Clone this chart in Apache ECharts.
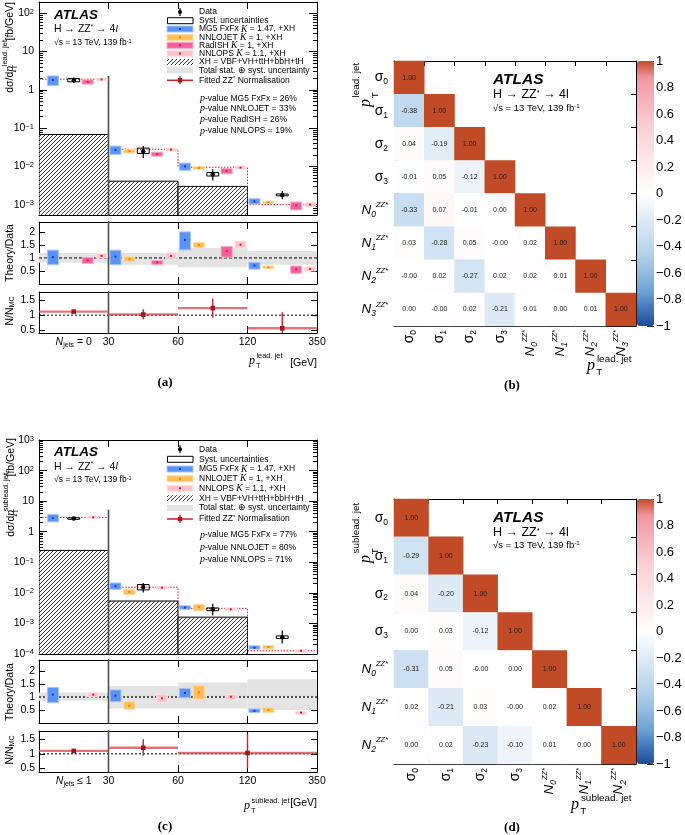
<!DOCTYPE html>
<html>
<head>
<meta charset="utf-8">
<title>H to ZZ* to 4l, jet pT</title>
<script src="https://cdn.jsdelivr.net/npm/echarts@6.0.0/dist/echarts.min.js"></script>
<style>
  html, body { margin: 0; padding: 0; background: #fff; }
  #chart { width: 685px; height: 835px; }
</style>
</head>
<body>
<div id="chart"></div>
<script>
var SANS = '"Liberation Sans", Arial, Helvetica, sans-serif';
var SERIF = '"Liberation Serif", "Times New Roman", serif';

// x runs 0..4, one unit per bin: N_jets bin, 30-60, 60-120, 120-350
var binLabels = ['30', '60', '120', '350'];

// ---------- (a) leading jet ----------
// predictions / data: [x, value, low, high]
var leadMG5 = [[0.2, 1.8, 1.3, 2.3], [1.1, 0.0267, 0.0206, 0.034], [2.1, 0.01, 0.0079, 0.0122], [3.1, 0.00122, 0.00104, 0.00143]];
var leadNNLOJET = [[1.3, 0.025, 0.0223, 0.0278], [2.3, 0.0091, 0.0083, 0.01], [3.3, 0.00115, 0.00108, 0.00123]];
var leadRadISH = [[0.7, 1.6, 1.41, 1.82], [1.7, 0.0209, 0.0185, 0.0236], [2.7, 0.0076, 0.0064, 0.0089], [3.7, 0.00095, 0.00073, 0.00117]];
var leadNNLOPS = [[0.9, 1.87, 1.72, 2.02], [1.9, 0.0275, 0.025, 0.03], [2.9, 0.0093, 0.0085, 0.0102], [3.9, 0.001, 0.0009, 0.00113]];
var leadData = [[0.5, 1.79, 1.5, 2.1], [1.5, 0.025, 0.0166, 0.034], [2.5, 0.0062, 0.0043, 0.0084], [3.5, 0.0018, 0.00138, 0.00228]];
var leadSyst = [[0.5, 1.62, 1.97], [1.5, 0.0218, 0.03], [2.5, 0.0056, 0.0069], [3.5, 0.0017, 0.0019]];
var leadXH = [0.068, 0.0041, 0.003, 0.0003];
var leadLine = [1.9, 0.028, 0.0095, 0.001];
var leadSplitTop = 2.3;
var leadRatioMG5 = [[0.2, 1.03, 0.74, 1.3], [1.1, 1.05, 0.74, 1.3], [2.1, 1.69, 1.31, 2.0], [3.1, 0.71, 0.57, 0.83]];
var leadRatioNNLOJET = [[1.3, 0.97, 0.87, 1.04], [2.3, 1.5, 1.4, 1.59], [3.3, 0.64, 0.59, 0.69]];
var leadRatioRadISH = [[0.7, 0.9, 0.79, 1.02], [1.7, 0.83, 0.74, 0.9], [2.7, 1.27, 1.03, 1.44], [3.7, 0.56, 0.41, 0.69]];
var leadRatioNNLOPS = [[0.9, 1.08, 1.0, 1.17], [1.9, 1.08, 0.99, 1.19], [2.9, 1.51, 1.38, 1.65], [3.9, 0.58, 0.5, 0.66]];
var leadBand = [[0.82, 1.19], [0.74, 1.19], [0.64, 1.38], [0.74, 1.27]];
// fitted ZZ* normalisation: [bin start, bin end, marker x, value, low, high]
var leadNorm = [[0, 1, 0.5, 1.12, 1.07, 1.16], [1, 2, 1.5, 1.02, 0.86, 1.2], [2, 3, 2.5, 1.24, 0.92, 1.57], [3, 4, 3.5, 0.55, 0.0, 1.1]];
var leadPvals = [['MG5 FxFx', 26], ['NNLOJET', 33], ['RadISH', 26], ['NNLOPS', 19]];

// ---------- (c) subleading jet ----------
var subMG5 = [[0.2, 2.8, 2.1, 3.7], [1.1, 0.0165, 0.013, 0.021], [2.1, 0.0033, 0.0029, 0.0038], [3.1, 0.00016, 0.000144, 0.000185]];
var subNNLOJET = [[1.3, 0.0107, 0.0088, 0.013], [2.3, 0.0034, 0.0026, 0.0042], [3.3, 0.00017, 0.000146, 0.00019]];
var subNNLOPS = [[0.78, 2.95, 2.7, 3.3], [1.77, 0.0148, 0.013, 0.0165], [2.76, 0.0029, 0.0026, 0.0032], [3.77, 0.000127, 0.000113, 0.00014]];
var subData = [[0.5, 2.7, 2.4, 3.0], [1.5, 0.0156, 0.0102, 0.021], [2.5, 0.0029, 0.0018, 0.0044], [3.5, 0.00035, 0.00022, 0.00059]];
var subSyst = [[0.5, 2.55, 2.85], [1.5, 0.0125, 0.0187], [2.5, 0.0026, 0.0032], [3.5, 0.00032, 0.00039]];
var subXH = [0.244, 0.0054, 0.0016, 0.00005];
var subLine = [2.95, 0.0153, 0.0031, 0.000127];
var subSplitTop = 5.2;
var subRatioMG5 = [[0.2, 1.09, 0.78, 1.37], [1.1, 1.05, 0.82, 1.27], [2.1, 1.15, 0.97, 1.33], [3.1, 0.47, 0.4, 0.54]];
var subRatioNNLOJET = [[1.3, 0.67, 0.53, 0.82], [2.3, 1.18, 0.92, 1.44], [3.3, 0.5, 0.41, 0.59]];
var subRatioNNLOPS = [[0.78, 1.09, 1.0, 1.17], [1.77, 0.95, 0.8, 1.1], [2.76, 1.01, 0.91, 1.1], [3.77, 0.4, 0.33, 0.45]];
var subBand = [[0.85, 1.17], [0.56, 1.42], [0.56, 1.56], [0.5, 1.69]];
var subNorm = [[0, 1, 0.5, 1.1, 1.03, 1.16], [1, 2, 1.5, 1.21, 0.93, 1.5], [2, 4, 3.0, 1.03, 0.5, 1.7]];
var subPvals = [['MG5 FxFx', 77], ['NNLOJET', 80], ['NNLOPS', 71]];

// ---------- (b), (d) correlation matrices (lower triangle, row by row) ----------
var leadParams = ['σ0', 'σ1', 'σ2', 'σ3', 'N0', 'N1', 'N2', 'N3'];
var leadCorr = [
  [1.00],
  [-0.38, 1.00],
  [0.04, -0.19, 1.00],
  [-0.01, 0.05, -0.12, 1.00],
  [-0.33, 0.07, -0.01, 0.00, 1.00],
  [0.03, -0.28, 0.05, -0.001, 0.02, 1.00],
  [-0.001, 0.02, -0.27, 0.02, 0.02, 0.01, 1.00],
  [0.00, -0.001, 0.02, -0.21, 0.01, 0.00, 0.01, 1.00]
];
var subParams = ['σ0', 'σ1', 'σ2', 'σ3', 'N0', 'N1', 'N2'];
var subCorr = [
  [1.00],
  [-0.29, 1.00],
  [0.04, -0.20, 1.00],
  [0.00, 0.03, -0.12, 1.00],
  [-0.31, 0.05, -0.001, 0.00, 1.00],
  [0.02, -0.21, 0.03, -0.001, 0.02, 1.00],
  [0.00, 0.02, -0.23, -0.10, 0.01, 0.00, 1.00]
];
var corrColors = ['#1f4c98', '#3f74b8', '#6a9fd4', '#8cb8df', '#a9cbe8', '#c1daee', '#d6e6f3', '#ebf2f9', '#ffffff',
  '#fef3f4', '#fde8ea', '#fbdce0', '#fad0d5', '#f7bdc4', '#f4aab3', '#f096a0', '#c24b27'];

// fill, edge, centre dot
var col = {
  mg5: ['#5b93f6', '#a9c7fa', '#1638c8'],
  nnlojet: ['#ffbe57', '#ffdca3', '#f08400'],
  radish: ['#f4609a', '#f9a9c8', '#d61d6f'],
  nnlops: ['#ffc5ca', '#ffe1e4', '#e8141c']
};

var hatchCanvas = (function () {
  var c = document.createElement('canvas');
  c.width = 4; c.height = 4;
  var g = c.getContext('2d');
  g.fillStyle = '#fff'; g.fillRect(0, 0, 4, 4);
  g.strokeStyle = '#262626'; g.lineWidth = 0.9;
  g.beginPath();
  g.moveTo(0, 4); g.lineTo(4, 0);
  g.moveTo(-1, 1); g.lineTo(1, -1);
  g.moveTo(3, 5); g.lineTo(5, 3);
  g.stroke();
  return c;
})();
var hatchFill = { image: hatchCanvas, repeat: 'repeat' };

var BOXW = 0.08, SYSW = 0.085;

function boxSeries(xi, yi, data, c) {
  return {
    type: 'custom', xAxisIndex: xi, yAxisIndex: yi, clip: true, silent: true, z: 5, data: data,
    encode: { x: 0, y: [1, 2, 3] },
    renderItem: function (params, api) {
      var x = api.value(0);
      var a = api.coord([x - BOXW, api.value(3)]);
      var b = api.coord([x + BOXW, api.value(2)]);
      var m = api.coord([x, api.value(1)]);
      return { type: 'group', children: [
        { type: 'rect', shape: { x: a[0], y: a[1], width: b[0] - a[0], height: b[1] - a[1] }, style: { fill: c[0], stroke: c[1], lineWidth: 1 } },
        { type: 'rect', shape: { x: m[0] - 1, y: m[1] - 1, width: 2, height: 2 }, style: { fill: c[2] } }
      ] };
    }
  };
}

function systSeries(xi, yi, data) {
  return {
    type: 'custom', xAxisIndex: xi, yAxisIndex: yi, clip: true, silent: true, z: 7, data: data,
    encode: { x: 0, y: [1, 2] },
    renderItem: function (params, api) {
      var x = api.value(0);
      var a = api.coord([x - SYSW, api.value(2)]);
      var b = api.coord([x + SYSW, api.value(1)]);
      return { type: 'rect', shape: { x: a[0], y: a[1], width: b[0] - a[0], height: b[1] - a[1] }, style: { fill: 'none', stroke: '#000', lineWidth: 1 } };
    }
  };
}

function dataSeries(xi, yi, data) {
  return {
    type: 'custom', xAxisIndex: xi, yAxisIndex: yi, clip: true, silent: true, z: 8, data: data,
    encode: { x: 0, y: [1, 2, 3] },
    renderItem: function (params, api) {
      var x = api.value(0);
      var lo = api.coord([x, api.value(2)]), hi = api.coord([x, api.value(3)]), m = api.coord([x, api.value(1)]);
      return { type: 'group', children: [
        { type: 'line', shape: { x1: lo[0], y1: lo[1], x2: hi[0], y2: hi[1] }, style: { stroke: '#000', lineWidth: 1.2 } },
        { type: 'circle', shape: { cx: m[0], cy: m[1], r: 2.2 }, style: { fill: '#000' } }
      ] };
    }
  };
}

// rectangles spanning [x0, x1] x [lo, hi]
function spanSeries(xi, yi, data, style, z) {
  return {
    type: 'custom', xAxisIndex: xi, yAxisIndex: yi, clip: true, silent: true, z: z, data: data,
    encode: { x: [0, 1], y: [2, 3] },
    renderItem: function (params, api) {
      var a = api.coord([api.value(0), api.value(3)]);
      var b = api.coord([api.value(1), api.value(2)]);
      return { type: 'rect', shape: { x: a[0], y: a[1], width: b[0] - a[0], height: b[1] - a[1] }, style: Object.assign({}, style) };
    }
  };
}

function normSeries(xi, yi, data) {
  return {
    type: 'custom', xAxisIndex: xi, yAxisIndex: yi, clip: true, silent: true, z: 6, data: data,
    encode: { x: [0, 1, 2], y: [3, 4, 5] },
    renderItem: function (params, api) {
      var v = api.value(3), xm = api.value(2);
      var a = api.coord([api.value(0), v]), b = api.coord([api.value(1), v]);
      var m = api.coord([xm, v]), lo = api.coord([xm, api.value(4)]), hi = api.coord([xm, api.value(5)]);
      return { type: 'group', children: [
        { type: 'line', shape: { x1: a[0], y1: a[1], x2: b[0], y2: b[1] }, style: { stroke: 'rgba(212,72,72,0.75)', lineWidth: 2.4 } },
        { type: 'line', shape: { x1: lo[0], y1: lo[1], x2: hi[0], y2: hi[1] }, style: { stroke: '#c42428', lineWidth: 1.4 } },
        { type: 'rect', shape: { x: m[0] - 2.3, y: m[1] - 2.3, width: 4.6, height: 4.6 }, style: { fill: '#a31418' } }
      ] };
    }
  };
}

function lineSeries(xi, yi, data, ls, step) {
  return { type: 'line', xAxisIndex: xi, yAxisIndex: yi, data: data, symbol: 'none', silent: true, step: step || false, lineStyle: ls, z: 4, clip: true };
}

function heatSeries(xi, yi, corr) {
  var d = [];
  corr.forEach(function (row, r) { row.forEach(function (v, c) { d.push([c, r, v]); }); });
  return {
    type: 'heatmap', xAxisIndex: xi, yAxisIndex: yi, data: d, silent: true,
    itemStyle: { borderWidth: 0 },
    label: { show: true, fontSize: 7, fontFamily: SANS, color: '#1a1a1a', formatter: function (p) { return p.value[2].toFixed(2); } }
  };
}

function steps(v) {
  var d = v.map(function (y, i) { return [i, y]; });
  d.push([v.length, v[v.length - 1]]);
  return d;
}
function spans(v, base) { return v.map(function (y, i) { return [i, i + 1, base, y]; }); }
function bands(v) { return v.map(function (b, i) { return [i, i + 1, b[0], b[1]]; }); }

// ---------- axes ----------
function axis(grid, pos, o) {
  var a = {
    type: o.type || 'value', gridIndex: grid, position: pos,
    axisLine: { show: !o.noLine, onZero: false, lineStyle: { color: '#000', width: 1 } },
    axisTick: { show: true, inside: true, length: o.len || 7, lineStyle: { color: '#000', width: 1 } },
    axisLabel: o.label || { show: false },
    splitLine: { show: false },
    splitArea: { show: false }
  };
  if (o.ticks) a.axisTick.customValues = o.ticks;
  if (o.min !== undefined) { a.min = o.min; a.max = o.max; }
  if (o.data) { a.data = o.data; a.axisTick.interval = 0; a.axisTick.alignWithLabel = false; a.axisTick.length = 5; }
  if (o.inverse) a.inverse = true;
  return a;
}

function logTicks(lo, hi, minor) {
  var t = [];
  for (var e = -6; e <= 4; e++) {
    var p = Math.pow(10, e);
    if (!minor) { if (p >= lo && p <= hi) t.push(p); }
    else for (var m = 2; m <= 9; m++) { var v = m * p; if (v >= lo && v <= hi) t.push(v); }
  }
  return t;
}
function logLabel(v) {
  var e = Math.round(Math.log10(v));
  if (e === 0) return '1';
  if (e === 1) return '10';
  return '10{sup|' + (e < 0 ? '\u2212' + (-e) : e) + '}';
}
function logLab(lo, hi) {
  return { show: true, customValues: logTicks(lo, hi), formatter: logLabel, fontSize: 10.5, fontFamily: SANS, color: '#000', margin: 5,
    rich: { sup: { fontSize: 7.5, fontFamily: SANS, color: '#000', verticalAlign: 'top', lineHeight: 8 } } };
}
function linLab(vals) {
  return { show: true, customValues: vals, fontSize: 10.5, fontFamily: SANS, color: '#000', margin: 4 };
}
var xRich = {
  n: { fontSize: 10.5, fontFamily: SANS, fontStyle: 'italic', color: '#000' },
  sub: { fontSize: 7, fontFamily: SANS, color: '#000', verticalAlign: 'bottom', lineHeight: 8 },
  t: { fontSize: 10.5, fontFamily: SANS, color: '#000' }
};
function binLab(jetText) {
  return { show: true, customValues: [0.5, 1, 2, 3, 4], fontSize: 10.5, fontFamily: SANS, color: '#000', margin: 3, lineHeight: 13, rich: xRich,
    formatter: function (v) { return v < 1 ? jetText : binLabels[Math.round(v) - 1]; } };
}
var parRich = {
  g: { fontSize: 14, fontFamily: SANS, color: '#000', lineHeight: 18 },
  sub: { fontSize: 8.5, fontFamily: SANS, color: '#000', verticalAlign: 'bottom', lineHeight: 9 },
  n: { fontSize: 13.5, fontFamily: SANS, fontStyle: 'italic', color: '#000', lineHeight: 18 },
  nsub: { fontSize: 8.5, fontFamily: SANS, fontStyle: 'italic', color: '#000', verticalAlign: 'bottom', lineHeight: 9 },
  sup: { fontSize: 7.5, fontFamily: SANS, fontStyle: 'italic', color: '#000', verticalAlign: 'top', lineHeight: 8 }
};
function parLabel(s) {
  var i = s.charAt(1);
  if (s.charAt(0) === 'σ') return '{g|σ}{sub|' + i + '}';
  return '{n|N}{nsub|' + i + '}{sup|ZZ*}';
}
function parLab(rot) {
  return { show: true, interval: 0, rotate: rot, margin: rot ? 4 : 6, formatter: parLabel, rich: parRich, fontSize: 13, fontFamily: SANS, color: '#000' };
}
function barAxis(grid) {
  return {
    type: 'value', gridIndex: grid, position: 'right', min: -1, max: 1, interval: 0.2,
    axisLine: { show: false, onZero: false },
    axisTick: { show: true, inside: true, length: 7, lineStyle: { color: '#222' } },
    splitLine: { show: false },
    axisLabel: { fontSize: 13, fontFamily: SANS, color: '#000', margin: 2,
      formatter: function (v) { var r = Math.round(v * 10) / 10; return r < 0 ? '\u2212' + (-r) : String(r); } }
  };
}

var grids = [
  { left: 39, top: 2, width: 278, height: 213 },   // 0 (a) main
  { left: 39, top: 222, width: 278, height: 62 },  // 1 (a) ratio
  { left: 39, top: 292, width: 278, height: 41 },  // 2 (a) norm
  { left: 39, top: 440, width: 278, height: 214 }, // 3 (c) main
  { left: 39, top: 660, width: 278, height: 63 },  // 4 (c) ratio
  { left: 39, top: 731, width: 278, height: 41 },  // 5 (c) norm
  { left: 394, top: 61, width: 242, height: 265 }, // 6 (b)
  { left: 394, top: 499, width: 242, height: 265 },// 7 (d)
  { left: 637, top: 61, width: 17, height: 265 },  // 8 (b) colour bar
  { left: 637, top: 499, width: 17, height: 265 }  // 9 (d) colour bar
];
grids.forEach(function (g) { g.outerBoundsMode = 'none'; });

var yRange = [
  { type: 'log', min: 5.37e-4, max: 197 },
  { min: 0, max: 2.38, ticks: [0.5, 1, 1.5, 2] },
  { min: 0.39, max: 1.79, ticks: [0.5, 1, 1.5] },
  { type: 'log', min: 9.95e-5, max: 1005 },
  { min: 0, max: 2.42, ticks: [0.5, 1, 1.5, 2] },
  { min: 0.37, max: 1.79, ticks: [0.5, 1, 1.5] }
];

var xAxes = [], yAxes = [];
for (var g = 0; g < 6; g++) {
  var lab = g === 2 ? binLab('{n|N}{sub|jets}{t| = 0}') : g === 5 ? binLab('{n|N}{sub|jets}{t| \u2264 1}') : null;
  xAxes.push(axis(g, 'bottom', { min: 0, max: 4, ticks: [1, 2, 3], label: lab }));
  xAxes.push(axis(g, 'top', { min: 0, max: 4, ticks: [1, 2, 3] }));
  var r = yRange[g];
  if (r.type === 'log') {
    var major = logTicks(r.min, r.max);
    yAxes.push(axis(g, 'left', { type: 'log', min: r.min, max: r.max, ticks: major, len: 8, label: logLab(r.min, r.max) }));
    yAxes.push(axis(g, 'right', { type: 'log', min: r.min, max: r.max, ticks: major, len: 8 }));
  } else {
    yAxes.push(axis(g, 'left', { min: r.min, max: r.max, ticks: r.ticks, len: 6, label: linLab(r.ticks) }));
    yAxes.push(axis(g, 'right', { min: r.min, max: r.max, ticks: r.ticks, len: 6 }));
  }
}
// minor log ticks (y 12..15)
[0, 3].forEach(function (g) {
  var r = yRange[g], minor = logTicks(r.min, r.max, true);
  yAxes.push(axis(g, 'left', { type: 'log', min: r.min, max: r.max, ticks: minor, len: 4, noLine: true }));
  yAxes.push(axis(g, 'right', { type: 'log', min: r.min, max: r.max, ticks: minor, len: 4, noLine: true }));
});
// heatmaps: x 12..15, y 16..19
xAxes.push(axis(6, 'bottom', { type: 'category', data: leadParams, label: parLab(90) }));
xAxes.push(axis(6, 'top', { type: 'category', data: leadParams }));
xAxes.push(axis(7, 'bottom', { type: 'category', data: subParams, label: parLab(90) }));
xAxes.push(axis(7, 'top', { type: 'category', data: subParams }));
yAxes.push(axis(6, 'left', { type: 'category', data: leadParams, inverse: true, label: parLab(0) }));
yAxes.push(axis(6, 'right', { type: 'category', data: leadParams, inverse: true }));
yAxes.push(axis(7, 'left', { type: 'category', data: subParams, inverse: true, label: parLab(0) }));
yAxes.push(axis(7, 'right', { type: 'category', data: subParams, inverse: true }));
// colour bars: x 16, 17; y 20, 21
xAxes.push({ type: 'value', gridIndex: 8, show: false, min: 0, max: 1 });
xAxes.push({ type: 'value', gridIndex: 9, show: false, min: 0, max: 1 });
yAxes.push(barAxis(8));
yAxes.push(barAxis(9));

// ---------- series ----------
var series = [];
function add(s) { series.push(s); return series.length - 1; }
var sepStyle = { color: '#4d4d4d', width: 1.6 };

// (a) main
add(spanSeries(0, 0, spans(leadXH, 1e-7), { fill: hatchFill, stroke: '#000', lineWidth: 1 }, 1));
add(lineSeries(0, 0, steps(leadLine), { color: '#e8141c', width: 1, type: [1.5, 1.5] }, 'end'));
add(lineSeries(0, 0, [[1, 1e-7], [1, leadSplitTop]], sepStyle));
add(boxSeries(0, 0, leadMG5, col.mg5));
add(boxSeries(0, 0, leadNNLOJET, col.nnlojet));
add(boxSeries(0, 0, leadRadISH, col.radish));
add(boxSeries(0, 0, leadNNLOPS, col.nnlops));
add(systSeries(0, 0, leadSyst));
add(dataSeries(0, 0, leadData));
// (a) ratio
add(spanSeries(2, 2, bands(leadBand), { fill: '#e3e3e3' }, 1));
add(lineSeries(2, 2, [[0, 1], [4, 1]], { color: '#000', width: 1, type: [3, 2] }));
add(lineSeries(2, 2, [[1, -1], [1, 3]], sepStyle));
add(boxSeries(2, 2, leadRatioMG5, col.mg5));
add(boxSeries(2, 2, leadRatioNNLOJET, col.nnlojet));
add(boxSeries(2, 2, leadRatioRadISH, col.radish));
add(boxSeries(2, 2, leadRatioNNLOPS, col.nnlops));
// (a) norm
add(lineSeries(4, 4, [[0, 1], [4, 1]], { color: '#000', width: 1, type: [2, 2] }));
add(lineSeries(4, 4, [[1, -1], [1, 3]], sepStyle));
add(normSeries(4, 4, leadNorm));

// (c) main
add(spanSeries(6, 6, spans(subXH, 1e-7), { fill: hatchFill, stroke: '#000', lineWidth: 1 }, 1));
add(lineSeries(6, 6, steps(subLine), { color: '#e8141c', width: 1, type: [1.5, 1.5] }, 'end'));
add(lineSeries(6, 6, [[1, 1e-7], [1, subSplitTop]], sepStyle));
add(boxSeries(6, 6, subMG5, col.mg5));
add(boxSeries(6, 6, subNNLOJET, col.nnlojet));
add(boxSeries(6, 6, subNNLOPS, col.nnlops));
add(systSeries(6, 6, subSyst));
add(dataSeries(6, 6, subData));
// (c) ratio
add(spanSeries(8, 8, bands(subBand), { fill: '#e3e3e3' }, 1));
add(lineSeries(8, 8, [[0, 1], [4, 1]], { color: '#555', width: 2, type: [2, 2] }));
add(lineSeries(8, 8, [[1, -1], [1, 3]], sepStyle));
add(boxSeries(8, 8, subRatioMG5, col.mg5));
add(boxSeries(8, 8, subRatioNNLOJET, col.nnlojet));
add(boxSeries(8, 8, subRatioNNLOPS, col.nnlops));
// (c) norm
add(lineSeries(10, 10, [[0, 1], [4, 1]], { color: '#000', width: 1, type: [2, 2] }));
add(lineSeries(10, 10, [[1, -1], [1, 3]], sepStyle));
add(normSeries(10, 10, subNorm));

// heatmaps
var heatB = add(heatSeries(12, 16, leadCorr));
var heatD = add(heatSeries(14, 18, subCorr));

// ---------- text, legends ----------
function T(x, y, text, o) {
  o = o || {};
  return { type: 'text', x: x, y: y, rotation: o.rot || 0, z: 100, silent: true,
    style: { text: text, fill: '#000', fontSize: o.size || 10, fontFamily: o.family || SANS, fontWeight: o.weight || 'normal',
      fontStyle: o.style || 'normal', align: o.align || 'left', verticalAlign: o.va || 'middle', rich: o.rich } };
}
function G(type, shape, style) { return { type: type, shape: shape, style: style, z: 100, silent: true }; }

function supRich(size) {
  return { sup: { fontSize: size, fontFamily: SANS, fill: '#000', verticalAlign: 'top', lineHeight: size } };
}
var legRich = {
  k: { fontSize: 9.5, fontFamily: SERIF, fontStyle: 'italic', fill: '#000' },
  sup: { fontSize: 6, fontFamily: SANS, fill: '#000', verticalAlign: 'top', lineHeight: 6 }
};

function atlasBlock(x, ys, sizes, italicL) {
  return [
    T(x, ys[0], 'ATLAS', { size: sizes[0], weight: 'bold', style: 'italic' }),
    T(x, ys[1], 'H \u2192 ZZ{sup|*} \u2192 4' + (italicL ? '{l|l}' : 'l'), { size: sizes[1],
      rich: { sup: { fontSize: sizes[1] * 0.6, fontFamily: SANS, verticalAlign: 'top', lineHeight: sizes[1] * 0.6 },
        l: { fontSize: sizes[1], fontFamily: SERIF, fontStyle: 'italic' } } }),
    T(x, ys[2], '\u221As = 13 TeV, 139 fb{sup|-1}', { size: sizes[2], rich: supRich(sizes[2] * 0.65) })
  ];
}

function legendBlock(rows, ys) {
  var out = [];
  rows.forEach(function (r, i) {
    var y = ys[i];
    if (r[0] === 'data') {
      out.push(G('line', { x1: 180, y1: y - 4, x2: 180, y2: y + 4 }, { stroke: '#000', lineWidth: 1.2 }));
      out.push(G('circle', { cx: 180, cy: y, r: 2 }, { fill: '#000' }));
    } else if (r[0] === 'syst') {
      out.push(G('rect', { x: 167.5, y: y - 3, width: 25.5, height: 6 }, { fill: 'none', stroke: '#000', lineWidth: 1 }));
    } else if (r[0] === 'box') {
      var c = col[r[2]];
      out.push(G('rect', { x: 167, y: y - 3, width: 26, height: 6 }, { fill: c[0], stroke: c[1], lineWidth: 1 }));
      out.push(G('rect', { x: 179, y: y - 1, width: 2, height: 2 }, { fill: c[2] }));
    } else if (r[0] === 'hatch') {
      out.push(G('rect', { x: 167, y: y - 3, width: 26, height: 6 }, { fill: hatchFill }));
    } else if (r[0] === 'band') {
      out.push(G('rect', { x: 167, y: y - 3, width: 26, height: 6 }, { fill: '#e3e3e3' }));
    } else if (r[0] === 'norm') {
      out.push(G('line', { x1: 167, y1: y, x2: 193, y2: y }, { stroke: '#c42428', lineWidth: 1.5 }));
      out.push(G('line', { x1: 180, y1: y - 4, x2: 180, y2: y + 4 }, { stroke: '#c42428', lineWidth: 1.3 }));
      out.push(G('rect', { x: 177.8, y: y - 2.2, width: 4.4, height: 4.4 }, { fill: '#a31418' }));
    }
    out.push(T(199, y, r[1], { size: 8.5, rich: legRich }));
  });
  return out;
}
function pvalBlock(pv, ys) {
  return pv.map(function (p, i) {
    return T(200, ys[i], '{p|p}-value ' + p[0] + ' = ' + p[1] + '%', { size: 8.5,
      rich: { p: { fontSize: 10, fontFamily: SERIF, fontStyle: 'italic' } } });
  });
}

var leadRows = [
  ['data', 'Data'],
  ['syst', 'Syst. uncertainties'],
  ['box', 'MG5 FxFx {k|K} = 1.47, +XH', 'mg5'],
  ['box', 'NNLOJET {k|K} = 1, +XH', 'nnlojet'],
  ['box', 'RadISH {k|K} = 1, +XH', 'radish'],
  ['box', 'NNLOPS {k|K} = 1.1, +XH', 'nnlops'],
  ['hatch', 'XH = VBF+VH+ttH+bbH+tH'],
  ['band', 'Total stat. \u2295 syst. uncertainty'],
  ['norm', 'Fitted ZZ{sup|*} Normalisation']
];
var subRows = leadRows.filter(function (r) { return r[2] !== 'radish'; });

// p_T^{label} built from pieces: p, subscript T, superscript label
function ptTitle(px, py, size, sub, sup, tail) {
  var s = size * 0.62;
  var out = [
    T(px, py, 'p', { size: size, family: SERIF, style: 'italic' }),
    T(px + size * 0.58, py + size * 0.42, 'T', { size: s }),
    T(px + size * 0.62, py - size * 0.42, sup, { size: s })
  ];
  if (tail) out.push(T(tail[0], tail[1], tail[2], { size: tail[3], align: 'right' }));
  return out;
}
function ptTitleRot(x, yBottom, size, sup) {
  var s = size * 0.62, rot = Math.PI / 2;
  return [
    T(x, yBottom, 'p', { size: size, family: SERIF, style: 'italic', rot: rot }),
    T(x + size * 0.55, yBottom - size * 0.55, 'T', { size: s, rot: rot }),
    T(x - size * 0.6, yBottom - size * 0.6, sup, { size: s, rot: rot })
  ];
}
function mainYTitle(x, yTop, yMid, yBottom, sup) {
  var rot = Math.PI / 2;
  return [
    T(x, yTop, '[fb/GeV]', { size: 10.5, rot: rot, align: 'right' }),
    T(x - 5.5, yMid, sup, { size: 7.5, rot: rot, align: 'right' }),
    T(x + 5, yBottom - 1, 'T', { size: 7.5, rot: rot, align: 'right' }),
    T(x, yBottom, 'd\u03c3/d{p|p}', { size: 10.5, rot: rot, align: 'right',
      rich: { p: { fontSize: 11.5, fontFamily: SERIF, fontStyle: 'italic' } } })
  ];
}
function nmcTitle(y) {
  return T(10, y, 'N/N{sub|MC}', { size: 10.5, rot: Math.PI / 2, align: 'center',
    rich: { sub: { fontSize: 7, fontFamily: SANS, verticalAlign: 'bottom', lineHeight: 8 } } });
}

var gfx = [];
gfx = gfx.concat(atlasBlock(54, [15, 29.5, 43], [13.5, 10.5, 8.5], true));
gfx = gfx.concat(legendBlock(leadRows, [12, 20.7, 29, 37.3, 45.3, 53.5, 62, 70.3, 80.3]));
gfx = gfx.concat(pvalBlock(leadPvals, [98.3, 108.8, 119.5, 131]));
gfx = gfx.concat(mainYTitle(10, 2, 40, 66, 'lead. jet'));
gfx.push(T(10, 253, 'Theory/Data', { size: 10.5, rot: Math.PI / 2, align: 'center' }));
gfx.push(nmcTitle(311));
gfx = gfx.concat(ptTitle(249, 361, 12, 'T', 'lead. jet', [317, 363.5, '[GeV]', 10.5]));
gfx.push(T(165, 383, '(a)', { size: 13, family: SERIF, weight: 'bold', align: 'center' }));

gfx = gfx.concat(atlasBlock(54, [452.3, 466.7, 480], [13.5, 10.5, 8.5], true));
gfx = gfx.concat(legendBlock(subRows, [449.3, 459.3, 469, 478.7, 488.3, 498.3, 508, 519]));
gfx = gfx.concat(pvalBlock(subPvals, [535, 547.3, 559.3]));
gfx = gfx.concat(mainYTitle(11, 438, 473, 510, 'sublead. jet'));
gfx.push(T(10, 692, 'Theory/Data', { size: 10.5, rot: Math.PI / 2, align: 'center' }));
gfx.push(nmcTitle(750));
gfx = gfx.concat(ptTitle(244, 806, 12, 'T', 'sublead. jet', [317, 802.7, '[GeV]', 10.5]));
gfx.push(T(165, 827, '(c)', { size: 13, family: SERIF, weight: 'bold', align: 'center' }));

gfx = gfx.concat(atlasBlock(493, [80, 95, 108], [15.5, 12.5, 9.5], false));
gfx = gfx.concat(ptTitle(587, 366, 16, 'T', 'lead. jet'));
gfx = gfx.concat(ptTitleRot(366, 107, 16, 'lead. jet'));
gfx.push(T(512, 386, '(b)', { size: 13, family: SERIF, weight: 'bold', align: 'center' }));

gfx = gfx.concat(atlasBlock(493, [518, 533, 545], [15.5, 12.5, 9.5], false));
gfx = gfx.concat(ptTitle(571, 805, 16, 'T', 'sublead. jet'));
gfx = gfx.concat(ptTitleRot(366, 563, 16, 'sublead. jet'));
gfx.push(T(512, 827.5, '(d)', { size: 13, family: SERIF, weight: 'bold', align: 'center' }));

var option = {
  animation: false,
  backgroundColor: '#fff',
  grid: grids,
  xAxis: xAxes,
  yAxis: yAxes,
  visualMap: [
    { type: 'continuous', seriesIndex: heatB, min: -1, max: 1, left: 637, top: 61, itemWidth: 17, itemHeight: 265,
      padding: 0, calculable: false, hoverLink: false, realtime: false, inRange: { color: corrColors } },
    { type: 'continuous', seriesIndex: heatD, min: -1, max: 1, left: 637, top: 499, itemWidth: 17, itemHeight: 265,
      padding: 0, calculable: false, hoverLink: false, realtime: false, inRange: { color: corrColors } }
  ],
  series: series,
  graphic: gfx
};

var chart = echarts.init(document.getElementById('chart'), null, { width: 685, height: 835 });
chart.setOption(option);
</script>
</body>
</html>
